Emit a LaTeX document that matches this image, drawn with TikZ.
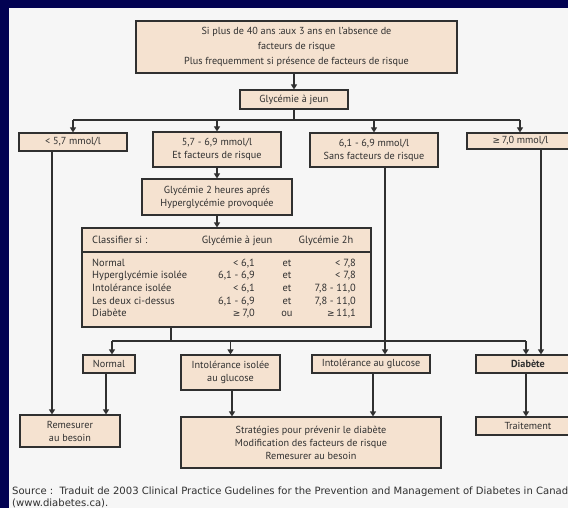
\documentclass[tikz,border=0pt]{standalone}
\usepackage{fontspec}
\setmainfont{PT Sans}
\newfontfamily\symf{DejaVu Sans}
\newfontfamily\srcf{DejaVu Sans}
\usetikzlibrary{arrows.meta}
\definecolor{navy}{RGB}{2,2,82}
\definecolor{panel}{RGB}{246,246,246}
\definecolor{boxfill}{RGB}{245,226,208}
\definecolor{ink}{RGB}{48,48,48}
\newcommand{\gesym}{{\symf\fontsize{9}{10}\selectfont ≥}}
\begin{document}
\begin{tikzpicture}[x=1pt,y=-1pt,
  box/.style={draw=ink, fill=boxfill, line width=1.1pt, inner sep=0pt, align=center, text=ink, font=\fontsize{10.2}{13}\selectfont},
  wire/.style={draw=ink, line width=1.1pt},
  arr/.style={wire, -{Triangle[width=6pt,length=5pt]}},
  cell/.style={inner sep=0pt, text=ink, font=\fontsize{10.4}{12}\selectfont},
  src/.style={inner sep=0pt, text=ink, anchor=mid west, font=\srcf\fontsize{10.05}{11}\selectfont}]
\clip (0,0) rectangle (568,508);
\fill[navy] (0,0) rectangle (568,508);
\fill[panel] (9,8) rectangle (568,508);
% boxes
\node[box, minimum width=321pt, minimum height=52pt] (top) at (296.5,47) {Si plus de 40 ans :aux 3 ans en l'absence de\\[2pt]facteurs de risque\\[2pt]Plus frequemment si présence de facteurs de risque};
\node[box, minimum width=108pt, minimum height=19pt] (gj) at (294,99.5) {Glycémie à jeun};
\node[box, minimum width=108pt, minimum height=18pt] (b1) at (73,142) {< 5,7 mmol/l};
\node[box, minimum width=128pt, minimum height=35pt] (b2) at (217,149.5) {5,7 - 6,9 mmol/l\\Et facteurs de risque};
\node[box, minimum width=128pt, minimum height=34pt] (b3) at (374,150) {6,1 - 6,9 mmol/l\\Sans facteurs de risque};
\node[box, minimum width=107pt, minimum height=16pt] (b4) at (520.5,141) {\gesym\,7,0 mmol/l};
\node[box, minimum width=150pt, minimum height=36pt] (g2) at (217,197) {Glycémie 2 heures aprés\\Hyperglycémie provoquée};
\node[box, minimum width=289pt, minimum height=99pt] (cl) at (226.5,277.5) {};
\node[box, minimum width=52pt, minimum height=18pt] (n1) at (109,364) {Normal};
\node[box, minimum width=99pt, minimum height=35pt] (n2) at (230.5,372.5) {Intolérance isolée\\au glucose};
\node[box, minimum width=118pt, minimum height=18pt] (n3) at (371,364) {Intolérance au glucose};
\node[box, minimum width=104pt, minimum height=18pt] (n4) at (528,364) {\bfseries Diabète};
\node[box, minimum width=100pt, minimum height=32pt] (r1) at (70,431) {Remesurer\\au besoin};
\node[box, minimum width=260pt, minimum height=51pt] (r2) at (311,442.5) {Stratégies pour prévenir le diabète\\Modification des facteurs de risque\\Remesurer au besoin};
\node[box, minimum width=104pt, minimum height=18pt] (r3) at (528,426) {Traitement};
% table inside classifier box
\coordinate (sepy) at (0,252);
\draw[wire] (cl.west |- sepy) -- (cl.east |- sepy);
\node[cell, anchor=mid west] (h1) at (92,241) {Classifier si :};
\node[cell, anchor=mid] (h2) at (237,241) {Glycémie à jeun};
\node[cell, anchor=mid] (h3) at (326,241) {Glycémie 2h};
\node[cell, anchor=mid west] (l1) at (92,263.5) {Normal};
\node[cell, anchor=mid east] (a1) at (255,263.5) {< 6,1};
\node[cell, anchor=mid] (e1) at (287,263.5) {et};
\node[cell, anchor=mid east] (c1) at (356,263.5) {< 7,8};
\node[cell, anchor=mid west] (l2) at (92,276.2) {Hyperglycémie isolée};
\node[cell, anchor=mid east] (a2) at (255,276.2) {6,1 - 6,9};
\node[cell, anchor=mid] (e2) at (287,276.2) {et};
\node[cell, anchor=mid east] (c2) at (356,276.2) {< 7,8};
\node[cell, anchor=mid west] (l3) at (92,288.9) {Intolérance isolée};
\node[cell, anchor=mid east] (a3) at (255,288.9) {< 6,1};
\node[cell, anchor=mid] (e3) at (287,288.9) {et};
\node[cell, anchor=mid east] (c3) at (356,288.9) {7,8 - 11,0};
\node[cell, anchor=mid west] (l4) at (92,301.6) {Les deux ci-dessus};
\node[cell, anchor=mid east] (a4) at (255,301.6) {6,1 - 6,9};
\node[cell, anchor=mid] (e4) at (287,301.6) {et};
\node[cell, anchor=mid east] (c4) at (356,301.6) {7,8 - 11,0};
\node[cell, anchor=mid west] (l5) at (92,314.3) {Diabète};
\node[cell, anchor=mid east] (a5) at (255,314.3) {\gesym\,7,0};
\node[cell, anchor=mid] (e5) at (287,314.3) {ou};
\node[cell, anchor=mid east] (c5) at (356,314.3) {\gesym\,11,1};
% connectors, upper part
\draw[arr] (gj.north |- top.south) -- (gj.north);
\coordinate (busA) at (294,120);
\coordinate (busAl) at (73,120);
\coordinate (busAr) at (520,120);
\draw[wire] (gj.south) -- (busA);
\draw[wire] (busAl) -- (busAr);
\draw[arr] (busAl) -- (busAl |- b1.north);
\draw[arr] (busA -| b2) -- (b2.north);
\draw[arr] (busA -| b3) -- (b3.north);
\draw[arr] (busAr) -- (busAr |- b4.north);
\draw[arr] (b2.south) -- (g2.north);
\draw[arr] (g2.south) -- (g2.south |- cl.north);
\draw[arr] ([xshift=-21pt]b1.south) -- ([xshift=-21pt]b1.south |- r1.north);
\draw[arr] ([xshift=11pt]b3.south) -- ([xshift=11pt]b3.south |- n3.north);
\draw[arr] ([xshift=20.5pt]b4.south) -- ([xshift=20.5pt]b4.south |- n4.north);
% connectors, lower part
\coordinate (busB) at (171,341);
\coordinate (busBl) at (112,341);
\coordinate (busBr) at (526,341);
\draw[wire] (busB |- cl.south) -- (busB);
\draw[wire] (busBl) -- (busBr);
\draw[arr] (busBl) -- (busBl |- n1.north);
\draw[arr] (busB -| n2) -- (n2.north);
\draw[arr] (busBr) -- (busBr |- n4.north);
\draw[arr] ([xshift=-3pt]n1.south) -- ([xshift=-3pt]n1.south |- r1.north);
\draw[arr] ([xshift=1.5pt]n2.south) -- ([xshift=1.5pt]n2.south |- r2.north);
\draw[arr] ([xshift=2pt]n3.south) -- ([xshift=2pt]n3.south |- r2.north);
\draw[arr] (busBr |- n4.south) -- (busBr |- r3.north);
% source
\node[src] (s1) at (12,492) {Source :\ \ Traduit de 2003 Clinical Practice Gudelines for the Prevention and Management of Diabetes in Canad};
\node[src] (s2) at (12,504) {(www.diabetes.ca).};
\end{tikzpicture}
\end{document}
